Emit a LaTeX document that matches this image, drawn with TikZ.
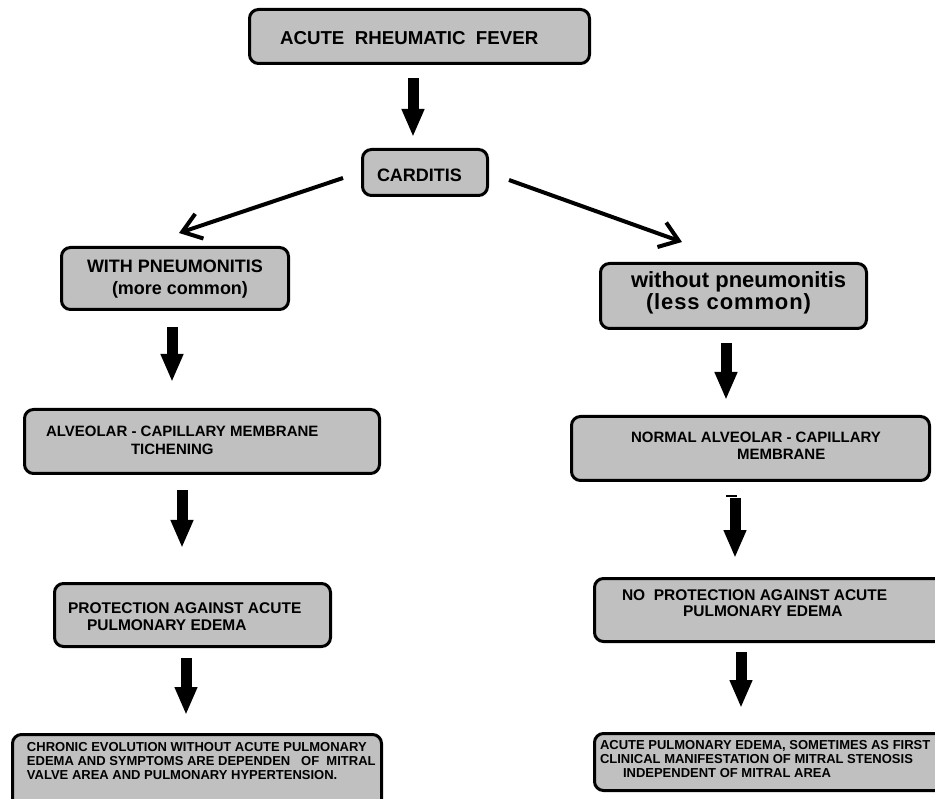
\documentclass[tikz,border=0pt]{standalone}
\usepackage{fontspec}
\setmainfont{Liberation Sans}
\usetikzlibrary{arrows.meta}
\definecolor{boxgray}{RGB}{192,192,192}
\newcommand\fsz[1]{\fontsize{#1}{#1}\selectfont\bfseries}
\tikzset{
  box/.style={draw=black, line width=3pt, rounded corners=9pt, fill=boxgray, inner sep=0pt, outer sep=0pt},
  txt/.style={anchor=base west, inner sep=0pt, outer sep=0pt, text=black},
  blockarr/.style={line width=11pt, -{Triangle[length=28pt,width=21pt]}},
  diagarr/.style={line width=4pt, -{Straight Barb[length=18pt,width=26pt,line width=4pt]}}
}
\begin{document}
\begin{tikzpicture}[x=1pt,y=-1pt]
\useasboundingbox (0,0) rectangle (935,799);
\clip (0,0) rectangle (935,799);
% boxes
\node[box, minimum width=340pt, minimum height=54pt] (b1) at (419.5,36.5) {};
\node[box, minimum width=125pt, minimum height=46pt] (b2) at (425,172.5) {};
\node[box, minimum width=227pt, minimum height=62pt] (b3) at (175,278.5) {};
\node[box, minimum width=355pt, minimum height=64pt] (b4) at (202,441.5) {};
\node[box, minimum width=266pt, minimum height=65pt] (b5) at (733.5,296) {};
\node[box, minimum width=358pt, minimum height=64pt] (b6) at (750.5,448.5) {};
\node[box, minimum width=276pt, minimum height=63pt] (b7) at (192.5,615) {};
\node[box, minimum width=369pt, minimum height=79pt] (b8) at (197,774) {};
\node[box, minimum width=364pt, minimum height=63pt] (b9) at (776.5,610) {};
\node[box, minimum width=364pt, minimum height=57pt] (b10) at (776.5,762) {};
% texts
\node[txt] (t1) at (280,45) {\fsz{18.7}ACUTE\ \ RHEUMATIC\ \ FEVER};
\node[txt] (t2) at (377,182) {\fsz{18}CARDITIS};
\node[txt] (t3a) at (87,273) {\fsz{18}WITH PNEUMONITIS};
\node[txt] (t3b) at (112,295) {\fsz{18}(more common)};
\node[txt] (t4a) at (46,437) {\fsz{15}ALVEOLAR - CAPILLARY MEMBRANE};
\node[txt] (t4b) at (131,455) {\fsz{15}TICHENING};
\node[txt] (t5a) at (631,288) {\fsz{22}without pneumonitis};
\node[txt] (t5b) at (646,310) {\fsz{22}\addfontfeature{LetterSpace=4}(less common)};
\node[txt] (t6a) at (631,443) {\fsz{15}NORMAL ALVEOLAR - CAPILLARY};
\node[txt] (t6b) at (737,460) {\fsz{15}MEMBRANE};
\node[txt] (t7a) at (68,613) {\fsz{15.5}PROTECTION AGAINST ACUTE};
\node[txt] (t7b) at (87,630) {\fsz{15.5}PULMONARY EDEMA};
\node[txt] (t8a) at (27,751) {\fsz{13}CHRONIC EVOLUTION WITHOUT ACUTE PULMONARY};
\node[txt] (t8b) at (27,765) {\fsz{13}EDEMA AND SYMPTOMS ARE DEPENDEN\ \ \ OF\ \ MITRAL};
\node[txt] (t8c) at (27,779) {\fsz{13}VALVE AREA AND PULMONARY HYPERTENSION.};
\node[txt] (t9a) at (622,600) {\fsz{15.5}NO\ \ PROTECTION AGAINST ACUTE};
\node[txt] (t9b) at (683,616) {\fsz{15.5}PULMONARY EDEMA};
\node[txt] (t10a) at (600,749) {\fsz{13}ACUTE PULMONARY EDEMA, SOMETIMES AS FIRST};
\node[txt] (t10b) at (600,763) {\fsz{13}CLINICAL MANIFESTATION OF MITRAL STENOSIS};
\node[txt] (t10c) at (623,777) {\fsz{13}INDEPENDENT OF MITRAL AREA};
% arrow end coordinates
\coordinate (a1s) at (413,78);  \coordinate (a1e) at (413,137);
\coordinate (a2s) at (172,327); \coordinate (a2e) at (172,382);
\coordinate (a3s) at (182,490); \coordinate (a3e) at (182,548);
\coordinate (a4s) at (186,658); \coordinate (a4e) at (186,715);
\coordinate (a5s) at (726,343); \coordinate (a5e) at (726,400);
\coordinate (a6s) at (735,498); \coordinate (a6e) at (735,558);
\coordinate (a7s) at (741,652); \coordinate (a7e) at (741,708);
\coordinate (dls) at (343,178); \coordinate (dle) at (179,233);
\coordinate (drs) at (509,180); \coordinate (dre) at (682,242);
\draw[blockarr] (a1s) -- (a1e);
\draw[blockarr] (a2s) -- (a2e);
\draw[blockarr] (a3s) -- (a3e);
\draw[blockarr] (a4s) -- (a4e);
\draw[blockarr] (a5s) -- (a5e);
\draw[blockarr] (a6s) -- (a6e);
\draw[blockarr] (a7s) -- (a7e);
\draw[diagarr] (dls) -- (dle);
\draw[diagarr] (drs) -- (dre);
% small stray mark above arrow
\draw[line width=2pt] (726,496) -- (737,496);
\end{tikzpicture}
\end{document}
